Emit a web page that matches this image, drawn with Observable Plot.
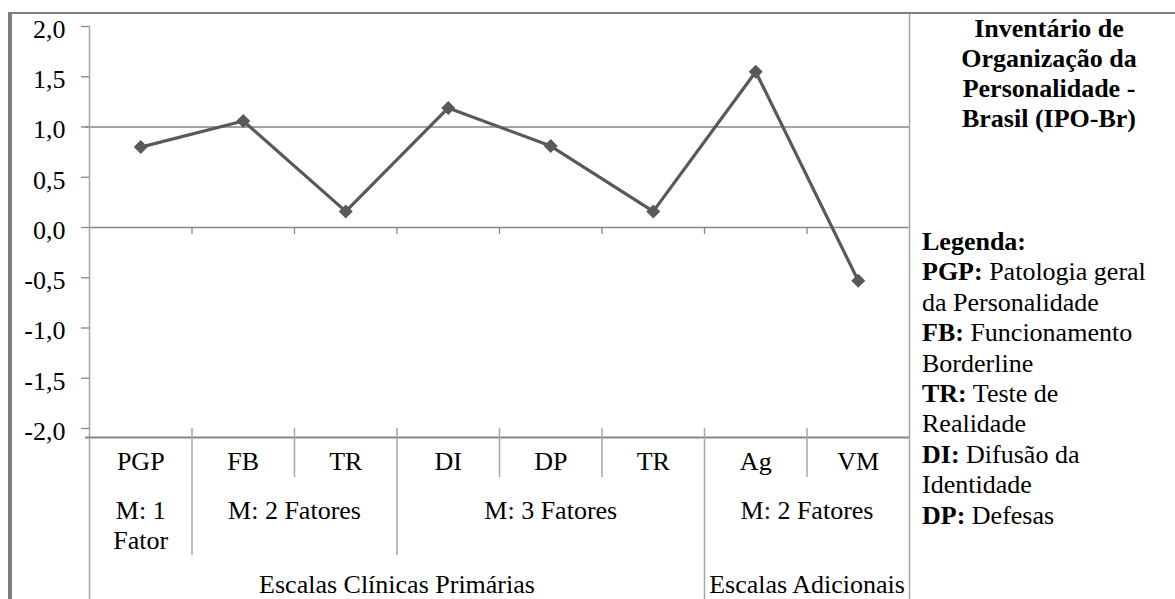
<!DOCTYPE html>
<html>
<head>
<meta charset="utf-8">
<script src="https://cdn.jsdelivr.net/npm/d3@7"></script>
<script src="https://cdn.jsdelivr.net/npm/@observablehq/plot@0.6"></script>
<style>
  html, body { margin: 0; padding: 0; background: #ffffff; }
  #wrap { position: relative; width: 1175px; height: 599px; overflow: hidden;
          font-family: "Liberation Serif", Tinos, "DejaVu Serif", serif; color: #000; }
  #chart { position: absolute; left: 0; top: 0; }
  #frame { position: absolute; left: 8px; top: 12px; right: 0; bottom: 0; box-sizing: border-box;
           border-left: 4px solid #7f7f7f; border-top: 2px solid #7f7f7f; pointer-events: none; }
  #title { position: absolute; left: 918px; width: 262px; top: 14px; text-align: center;
           font-weight: bold; font-size: 26px; line-height: 30px; white-space: nowrap; }
  #legend { position: absolute; left: 922px; top: 227px; font-size: 26px; line-height: 30.4px; white-space: nowrap; }
</style>
</head>
<body>
<div id="wrap">
  <div id="chart"></div>
  <div id="frame"></div>
  <div id="title"></div>
  <div id="legend"></div>
</div>
<script>
// ---------- data ----------
const categories = ["PGP", "FB", "TR", "DI", "DP", "TR", "Ag", "VM"];
const values = [0.80, 1.06, 0.16, 1.19, 0.81, 0.16, 1.55, -0.53];

const groupLabels = ["M: 1\nFator", "M: 2 Fatores", "M: 3 Fatores", "M: 2 Fatores"];
const groupStarts = [0, 1, 3, 6];
const groupEnds = [1, 3, 6, 8];

const scaleLabels = ["Escalas Clínicas Primárias", "Escalas Adicionais"];
const scaleStarts = [0, 6];
const scaleEnds = [6, 8];

const yTicks = [-2, -1.5, -1, -0.5, 0, 0.5, 1, 1.5, 2];
const yTickLabels = ["-2,0", "-1,5", "-1,0", "-0,5", "0,0", "0,5", "1,0", "1,5", "2,0"];

const titleLines = ["Inventário de", "Organização da", "Personalidade -", "Brasil (IPO-Br)"];
const legendHeading = "Legenda:";
const legendCodes = ["PGP:", "FB:", "TR:", "DI:", "DP:"];
const legendTexts = [["Patologia geral", "da Personalidade"], ["Funcionamento", "Borderline"],
                     ["Teste de", "Realidade"], ["Difusão da", "Identidade"], ["Defesas"]];

// ---------- layout ----------
const W = 1175, H = 599;
const mL = 89, mR = 266, mT = 26, mB = 171;
const unitPx = (H - mB - mT) / 4;               // pixels per y unit
const yAt = px => 2 - (px - mT) / unitPx;        // page pixel row -> y value
const xPx = (W - mL - mR) / 8;                   // pixels per category
const xOff = px => px / xPx;                     // pixel offset -> x units

const gridColor = "#868686";
const sepColor = "#a6a6a6";
const lineColor = "#595959";
const font = '"Liberation Serif", Tinos, "DejaVu Serif", serif';

const diamond = {
  draw(context, size) {
    const h = Math.sqrt(size / 2);
    context.moveTo(0, -h); context.lineTo(h, 0); context.lineTo(0, h); context.lineTo(-h, 0); context.closePath();
  }
};

const bounds = d3.range(1, 8);

const chart = Plot.plot({
  width: W, height: H,
  marginLeft: mL, marginRight: mR, marginTop: mT, marginBottom: mB,
  x: { domain: [0, 8], axis: null },
  y: { domain: [-2, 2], axis: null },
  style: { fontFamily: font, fontSize: "26px", background: "transparent", color: "#000", overflow: "visible" },
  marks: [
    // horizontal reference lines
    Plot.ruleY([1], { x1: xOff(-4), x2: 8, stroke: gridColor, strokeWidth: 1.3 }),
    Plot.ruleY([0], { x1: 0, x2: 8, stroke: gridColor, strokeWidth: 1.3 }),
    Plot.ruleX(bounds, { y1: 0, y2: yAt(234), stroke: gridColor, strokeWidth: 1.3 }),
    // y axis + right panel border
    Plot.ruleX([0], { y1: 2, y2: yAt(H), stroke: sepColor, strokeWidth: 1.5 }),
    Plot.ruleX([8], { y1: yAt(14), y2: yAt(H), stroke: sepColor, strokeWidth: 1.5 }),
    // y ticks and labels
    Plot.ruleY(yTicks, { x1: xOff(-8), x2: 0, stroke: gridColor, strokeWidth: 1.3 }),
    Plot.text(yTicks, { y: d => d, text: (d, i) => yTickLabels[i], frameAnchor: "left", textAnchor: "end",
                        dx: -24, dy: 3, fill: "#000" }),
    // category table
    Plot.ruleY([yAt(437)], { x1: xOff(-4), x2: 8, stroke: gridColor, strokeWidth: 2 }),
    Plot.ruleX(bounds, { y1: -2, y2: yAt(477), stroke: sepColor, strokeWidth: 1.5 }),
    Plot.ruleX(groupStarts.slice(1), { y1: yAt(477), y2: yAt(555), stroke: sepColor, strokeWidth: 1.5 }),
    Plot.ruleX(scaleStarts.slice(1), { y1: yAt(555), y2: yAt(H), stroke: sepColor, strokeWidth: 1.5 }),
    Plot.text(categories, { x: (d, i) => i + 0.5, y: () => yAt(469), lineAnchor: "bottom", text: d => d, fill: "#000" }),
    Plot.text(groupLabels, { x: (d, i) => (groupStarts[i] + groupEnds[i]) / 2, y: () => yAt(515 - 18.5),
                             lineAnchor: "top", lineHeight: 1.17, text: d => d, fill: "#000" }),
    Plot.text(scaleLabels, { x: (d, i) => (scaleStarts[i] + scaleEnds[i]) / 2, y: () => yAt(592),
                             lineAnchor: "bottom", text: d => d, fill: "#000" }),
    // series
    Plot.line(values, { x: (d, i) => i + 0.5, y: d => d, stroke: lineColor, strokeWidth: 3.2 }),
    Plot.dot(values, { x: (d, i) => i + 0.5, y: d => d, symbol: diamond, r: 5.6, fill: lineColor, stroke: "none" })
  ]
});
document.getElementById("chart").appendChild(chart);

document.getElementById("title").innerHTML = titleLines.join("<br>");
let lg = `<b>${legendHeading}</b>`;
legendCodes.forEach((c, i) => {
  lg += `<br><b>${c}</b> ` + legendTexts[i].join("<br>");
});
document.getElementById("legend").innerHTML = lg;
</script>
</body>
</html>
